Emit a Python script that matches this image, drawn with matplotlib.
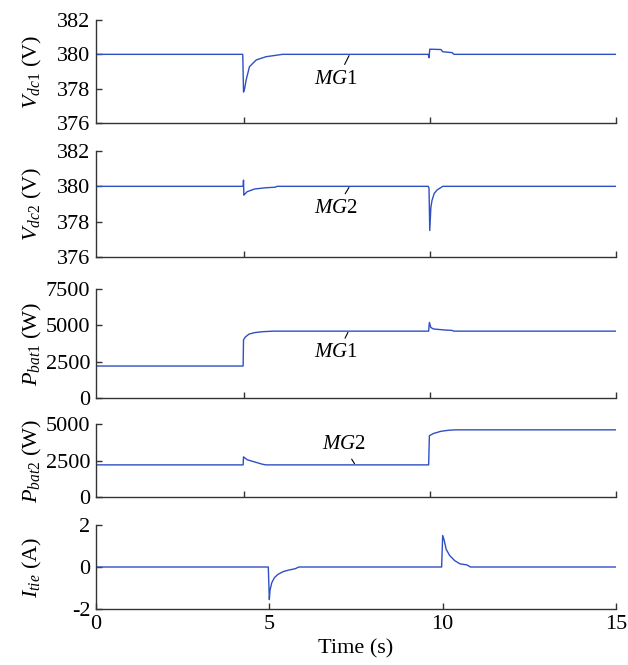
import numpy as np
import matplotlib
matplotlib.use("Agg")
import matplotlib.pyplot as plt

# ---- style ---------------------------------------------------------------
LINE = "#2f4fc4"
AXC = "#333333"
plt.rcParams.update({
    "font.family": "Liberation Serif",
    "mathtext.fontset": "custom",
    "mathtext.rm": "Liberation Serif",
    "mathtext.it": "Liberation Serif:italic",
    "font.size": 16,
    "xtick.direction": "in",
    "ytick.direction": "in",
    "axes.linewidth": 1.0,
    "axes.unicode_minus": False,
})

W, H = 628, 665

# ---- data (breakpoints) --------------------------------------------------
# upper four panels share one time base, bottom panel another
t_v1 = [0, 4.98, 5.0, 5.03, 5.07, 5.16, 5.34, 5.6, 6.05, 9.96, 9.98, 10.0,
        10.3, 10.35, 10.6, 10.65, 15]
v_dc1 = [380, 380, 377.8, 378.0, 378.5, 379.28, 379.67, 379.86, 380, 380,
         379.8, 380.3, 380.28, 380.15, 380.1, 380, 380]

t_v2 = [0, 4.99, 5.0, 5.01, 5.03, 5.1, 5.3, 5.6, 5.85, 5.9, 9.96, 9.98, 10.0,
        10.03, 10.06, 10.12, 10.2, 10.35, 15]
v_dc2 = [380, 380, 380.35, 379.5, 379.55, 379.7, 379.85, 379.92, 379.95, 380,
         380, 379.9, 377.5, 378.8, 379.2, 379.6, 379.8, 380, 380]

t_p1 = [0, 4.99, 5.0, 5.05, 5.15, 5.3, 5.5, 5.8, 9.97, 9.99, 10.03, 10.1,
        10.4, 10.6, 10.65, 15]
p_bat1 = [2200, 2200, 4000, 4200, 4400, 4500, 4560, 4600, 4600, 5200, 4850,
          4750, 4680, 4650, 4600, 4600]

t_p2 = [0, 4.99, 5.0, 5.1, 5.3, 5.5, 5.6, 9.97, 9.99, 10.1, 10.3, 10.5,
        10.7, 15]
p_bat2 = [2200, 2200, 2750, 2550, 2400, 2250, 2200, 2200, 4200, 4350, 4500,
          4570, 4600, 4600]

t_i = [0, 4.97, 5.0, 5.02, 5.07, 5.15, 5.25, 5.4, 5.55, 5.75, 5.85, 9.97,
       10.0, 10.04, 10.1, 10.2, 10.35, 10.5, 10.7, 10.8, 15]
i_tie = [0, 0, -1.55, -1.1, -0.75, -0.5, -0.35, -0.22, -0.15, -0.08, 0, 0,
         1.5, 1.3, 0.85, 0.55, 0.3, 0.15, 0.1, 0, 0]

panels = [
    (t_v1, v_dc1, r"$V_{dc1}$ (V)", (376, 382), [376, 378, 380, 382], 20, 123),
    (t_v2, v_dc2, r"$V_{dc2}$ (V)", (376, 382), [376, 378, 380, 382], 151, 257),
    (t_p1, p_bat1, r"$P_{bat1}$ (W)", (0, 7500), [0, 2500, 5000, 7500], 289, 398),
    (t_p2, p_bat2, r"$P_{bat2}$ (W)", (0, 5000), [0, 2500, 5000], 424, 497),
    (t_i, i_tie, r"$I_{tie}$ (A)", (-2, 2), [-2, 0, 2], 525, 609),
]

# label, text position, curve point (data coords), panel index, relpos
notes = [
    ("$MG$1", (7.48, 378.55), (7.85, 380.0), 0, (0.64, 1.0)),
    ("$MG$2", (7.48, 378.75), (7.85, 380.0), 1, (0.64, 1.0)),
    ("$MG$1", (7.49, 3100), (7.82, 4600), 2, (0.64, 1.0)),
    ("$MG$2", (7.7, 3600), (8.0, 2200), 3, (0.6, 0.0)),
]

fig = plt.figure(figsize=(W / 100, H / 100), dpi=100)
axes = []
for k, (t, y, lab, ylim, yt, top, bot) in enumerate(panels):
    ax = fig.add_axes([96 / W, 1 - bot / H, 520 / W, (bot - top) / H])
    ax.plot(t, y, color=LINE, lw=1.0)
    for s in ["top", "right"]:
        ax.spines[s].set_visible(False)
    for s in ["left", "bottom"]:
        ax.spines[s].set_color(AXC)
    ax.set_ylim(*ylim)
    ax.set_yticks(yt)
    ax.tick_params(length=4, width=1, color=AXC, labelsize=16, pad=4)
    if k < 4:
        ax.set_xlim(1.04, 15)
        ax.set_xticks([5, 10, 15])
        ax.set_xticklabels([])
    else:
        ax.set_xlim(0, 15)
        ax.set_xticks([0, 5, 10, 15])
        ax.set_xlabel("Time (s)", fontsize=16, labelpad=4)
    ax.set_ylabel(lab, fontsize=16)
    ax.yaxis.set_label_coords(-0.1, 0.5)
    axes.append(ax)

for txt, xyt, xy, k, rp in notes:
    axes[k].annotate(txt, xy=xy, xytext=xyt, ha="center", va="center",
                     fontsize=15,
                     arrowprops=dict(arrowstyle="-", color="black", lw=0.8,
                                     shrinkA=2, shrinkB=1, relpos=rp))

fig.savefig("out.png", dpi=100)
